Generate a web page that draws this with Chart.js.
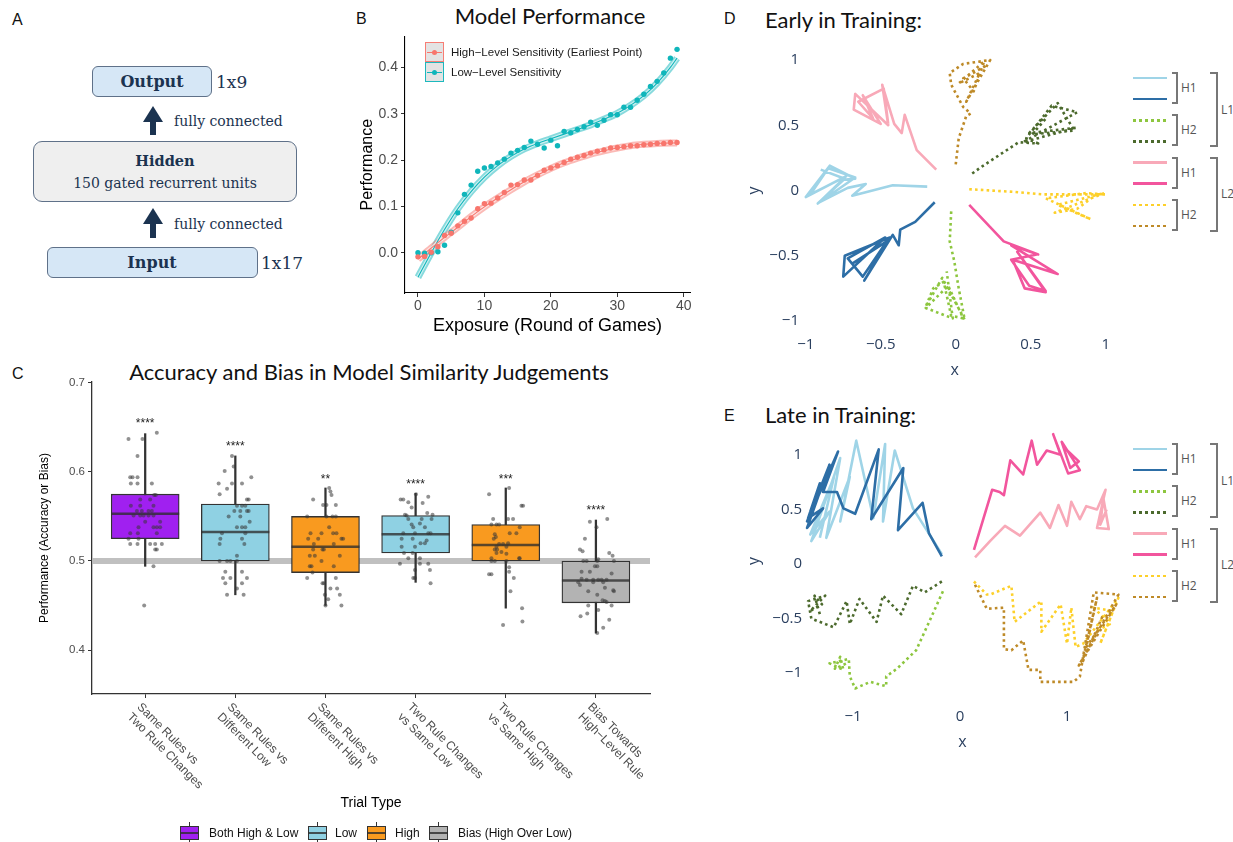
<!DOCTYPE html>
<html lang="en"><head><meta charset="utf-8"><title>Model figure</title>
<script src="https://cdn.jsdelivr.net/npm/chart.js@4.4.1/dist/chart.umd.min.js"></script>
<style>
html,body{margin:0;padding:0;background:#fff;}
#page{position:relative;width:1233px;height:842px;overflow:hidden;background:#fff;font-family:"Liberation Sans",Arial,sans-serif;color:#000}
.a{position:absolute;white-space:nowrap;line-height:1}
.cy{transform:translateY(-50%)}
.cc{transform:translate(-50%,-50%)}
.lbl{font-size:16px;color:#111}
.ttl{font-family:Lato,"Open Sans",sans-serif;color:#111}
.serif{font-family:"DejaVu Serif","Liberation Serif",serif;color:#1b3350}
.bx{position:absolute;box-sizing:border-box;border:1px solid #5f7189;}
canvas{position:absolute;display:block}
</style></head>
<body><div id="page">
<!-- Panel A : network diagram -->
<div class="a lbl cy" style="left:12px;top:20px">A</div>
<div class="bx" style="left:92px;top:66px;width:120px;height:31px;background:#d6e7f6;border-radius:6px"></div>
<div class="a serif cc" style="left:152px;top:82px;font-size:16px;font-weight:bold">Output</div>
<div class="a serif cy" style="left:216px;top:82px;font-size:17px">1x9</div>
<div class="a" style="left:143px;top:106px;width:0;height:0;border-left:10px solid transparent;border-right:10px solid transparent;border-bottom:16px solid #1b3350"></div>
<div class="a" style="left:150px;top:121px;width:6px;height:14px;background:#1b3350"></div>
<div class="a serif cy" style="left:174px;top:121px;font-size:14px">fully connected</div>
<div class="bx" style="left:33px;top:141px;width:264px;height:61px;background:#efefef;border-radius:9px"></div>
<div class="a serif cc" style="left:165px;top:161px;font-size:14.5px;font-weight:bold">Hidden</div>
<div class="a serif cc" style="left:165px;top:183px;font-size:14px">150 gated recurrent units</div>
<div class="a" style="left:143px;top:208px;width:0;height:0;border-left:10px solid transparent;border-right:10px solid transparent;border-bottom:16px solid #1b3350"></div>
<div class="a" style="left:150px;top:223px;width:6px;height:15px;background:#1b3350"></div>
<div class="a serif cy" style="left:174px;top:224px;font-size:14px">fully connected</div>
<div class="bx" style="left:47px;top:247px;width:211px;height:31px;background:#d6e7f6;border-radius:6px"></div>
<div class="a serif cc" style="left:152px;top:263px;font-size:16px;font-weight:bold">Input</div>
<div class="a serif cy" style="left:261px;top:263px;font-size:17px">1x17</div>

<!-- Panel B -->
<div class="a lbl cy" style="left:356px;top:19px">B</div>
<div class="a ttl cc" style="left:550px;top:16px;font-size:22px">Model Performance</div>
<canvas id="chartB" width="345" height="320" style="left:350px;top:25px;width:345px;height:320px"></canvas>
<div id="legB"></div>

<!-- Panel C -->
<div class="a lbl cy" style="left:12px;top:374px">C</div>
<div class="a ttl cc" style="left:369px;top:372px;font-size:22px">Accuracy and Bias in Model Similarity Judgements</div>
<canvas id="chartC" width="665" height="480" style="left:0px;top:360px;width:665px;height:480px"></canvas>
<div id="legC"></div>

<!-- Panel D -->
<div class="a lbl cy" style="left:724px;top:19px">D</div>
<div class="a ttl cy" style="left:765px;top:20px;font-size:22px">Early in Training:</div>
<canvas id="chartD" width="385" height="335" style="left:740px;top:48px;width:385px;height:335px"></canvas>
<div id="legD"></div>

<!-- Panel E -->
<div class="a lbl cy" style="left:724px;top:416px">E</div>
<div class="a ttl cy" style="left:765px;top:415px;font-size:22px">Late in Training:</div>
<canvas id="chartE" width="385" height="330" style="left:740px;top:422px;width:385px;height:330px"></canvas>
<div id="legE"></div>
</div>

<script>
// ================= Panel B data =================
const rounds = [0,1,2,3,4,5,6,7,8,9,10,11,12,13,14,15,16,17,18,19,20,21,22,23,24,25,26,27,28,29,30,31,32,33,34,35,36,37,38,39];
const highSens = [-0.009,-0.008,0.001,0.013,0.037,0.042,0.058,0.068,0.075,0.095,0.106,0.107,0.118,0.130,0.146,0.147,0.157,0.157,0.167,0.178,0.183,0.188,0.195,0.202,0.206,0.210,0.215,0.219,0.222,0.226,0.227,0.229,0.231,0.231,0.233,0.234,0.236,0.236,0.238,0.238];
const lowSens = [0.000,-0.001,0.000,0.002,0.016,0.044,0.086,0.126,0.146,0.176,0.183,0.186,0.194,0.202,0.215,0.221,0.227,0.241,0.234,0.226,0.243,0.231,0.262,0.259,0.266,0.272,0.282,0.275,0.286,0.298,0.298,0.314,0.314,0.329,0.342,0.359,0.370,0.388,0.420,0.439];
const fitRounds = [0,2,4,6,8,10,12,14,16,18,20,22,24,26,28,30,32,34,36,38,39];
const highFit = [-0.014,0.010,0.033,0.055,0.078,0.099,0.118,0.136,0.153,0.168,0.182,0.194,0.204,0.213,0.220,0.226,0.231,0.234,0.236,0.237,0.237];
const lowFit = [-0.053,0.000,0.050,0.095,0.132,0.163,0.188,0.208,0.224,0.236,0.246,0.256,0.266,0.276,0.288,0.301,0.318,0.339,0.366,0.400,0.420];
const bXTicks = [0,10,20,30,40];
const bYTicks = [0,0.1,0.2,0.3,0.4];
const bSeriesNames = ['High\u2212Level Sensitivity (Earliest Point)','Low\u2212Level Sensitivity'];

// ================= Panel C data =================
const trialTypes = [['Same Rules vs','Two Rule Changes'],['Same Rules vs','Different Low'],['Same Rules vs','Different High'],['Two Rule Changes','vs Same Low'],['Two Rule Changes','vs Same High'],['Bias Towards','High\u2212Level Rule']];
const boxGroupNames = ['Both High & Low','Low','High','Bias (High Over Low)'];
const boxGroupOf = [0,1,2,1,2,3];
const q1 = [0.525,0.500,0.487,0.509,0.500,0.453];
const med = [0.553,0.5325,0.516,0.530,0.518,0.478];
const q3 = [0.575,0.564,0.550,0.551,0.541,0.500];
const whiskLo = [0.494,0.462,0.450,0.476,0.447,0.419];
const whiskHi = [0.643,0.618,0.582,0.576,0.582,0.546];
const sigLabels = ['****','****','**','****','***','****'];
const sigY = [0.658,0.633,0.595,0.590,0.595,0.561];
const chanceLevel = 0.5;
const cYTicks = [0.4,0.5,0.6,0.7];
const jitSameVsTwo = [[-0.185,0.637],[-0.03,0.637],[0.129,0.644],[-0.085,0.618],[-0.166,0.594],[-0.140,0.594],[-0.085,0.594],[-0.159,0.587],[-0.085,0.587],[0.074,0.587],[-0.055,0.569],[0.055,0.569],[0.10,0.574],[0.118,0.574],[-0.159,0.562],[-0.055,0.562],[0.092,0.562],[-0.092,0.556],[-0.037,0.556],[0.037,0.556],[0.074,0.556],[-0.129,0.551],[-0.055,0.551],[-0.018,0.551],[0.037,0.551],[0.092,0.551],[0,0.544],[0.166,0.544],[-0.074,0.538],[0.092,0.538],[0.129,0.538],[0.166,0.538],[-0.166,0.531],[-0.081,0.531],[0.129,0.531],[-0.185,0.525],[-0.074,0.525],[-0.166,0.519],[-0.085,0.519],[0.055,0.519],[0.111,0.519],[0.185,0.519],[0.111,0.513],[0.129,0.513],[0.092,0.494],[-0.011,0.450]];
const jitSameVsDiffLow = [[-0.018,0.606],[-0.037,0.618],[-0.118,0.601],[0.177,0.594],[-0.185,0.587],[-0.037,0.587],[0.074,0.587],[-0.174,0.575],[-0.092,0.581],[0.129,0.569],[0.148,0.569],[0.018,0.562],[0.074,0.562],[0.111,0.562],[-0.011,0.556],[0.055,0.556],[0.129,0.556],[0.148,0.556],[-0.074,0.550],[0.055,0.550],[0.159,0.544],[0.018,0.538],[0.074,0.538],[0.111,0.538],[-0.148,0.531],[0.111,0.531],[-0.166,0.525],[0.074,0.525],[-0.174,0.519],[0.10,0.519],[0.018,0.506],[-0.174,0.500],[-0.092,0.500],[-0.055,0.500],[0.018,0.500],[-0.111,0.488],[0.074,0.488],[-0.137,0.481],[-0.055,0.481],[0.129,0.481],[-0.111,0.475],[0.074,0.475],[0.018,0.469],[-0.092,0.462],[0.092,0.462]];
const jitSameVsDiffHigh = [[0.041,0.582],[0.055,0.578],[0.067,0.574],[-0.137,0.569],[-0.026,0.563],[0.011,0.563],[0.115,0.563],[-0.203,0.550],[0.011,0.550],[0.078,0.550],[0.115,0.550],[0.041,0.538],[-0.166,0.531],[-0.044,0.531],[0.085,0.531],[0.122,0.531],[-0.192,0.525],[-0.081,0.525],[0.177,0.525],[0.196,0.525],[-0.129,0.519],[0.092,0.519],[-0.137,0.513],[-0.018,0.513],[-0.033,0.513],[-0.174,0.506],[-0.118,0.506],[0.159,0.506],[-0.044,0.500],[-0.174,0.494],[-0.155,0.494],[0.092,0.494],[-0.144,0.487],[-0.203,0.481],[0.115,0.481],[-0.033,0.475],[-0.018,0.475],[0.055,0.469],[0.129,0.469],[0.03,0.457],[-0.007,0.462],[0.159,0.462],[0,0.450],[0.177,0.450]];
const jitTwoVsSameLow = [[-0.166,0.569],[-0.137,0.569],[-0.081,0.566],[0.14,0.572],[0.004,0.575],[0.078,0.565],[-0.044,0.560],[-0.118,0.552],[-0.10,0.551],[0.129,0.554],[0.188,0.552],[-0.081,0.547],[0.067,0.547],[0.177,0.547],[-0.026,0.538],[0.103,0.538],[0.048,0.542],[-0.044,0.541],[-0.137,0.531],[-0.007,0.531],[0.14,0.531],[0.166,0.531],[-0.155,0.525],[-0.033,0.525],[0.055,0.520],[0.103,0.520],[0.122,0.523],[-0.155,0.516],[-0.007,0.516],[-0.129,0.509],[-0.033,0.509],[-0.081,0.503],[0.048,0.503],[-0.174,0.497],[0.048,0.497],[0.14,0.497],[-0.007,0.490],[0.159,0.490],[-0.026,0.481],[-0.007,0.481],[0.166,0.475]];
const jitTwoVsSameHigh = [[0.037,0.582],[-0.185,0.575],[0.174,0.562],[0.192,0.562],[-0.14,0.547],[0.026,0.547],[0.081,0.547],[-0.159,0.541],[-0.103,0.541],[-0.074,0.541],[0.155,0.538],[0.118,0.531],[0.044,0.531],[-0.122,0.530],[-0.11,0.527],[-0.133,0.525],[0.026,0.520],[-0.074,0.519],[-0.03,0.519],[-0.103,0.516],[-0.122,0.513],[-0.096,0.513],[0.007,0.516],[-0.048,0.510],[0.007,0.508],[-0.159,0.503],[-0.103,0.509],[0.148,0.503],[0.155,0.503],[-0.159,0.500],[-0.122,0.500],[0.007,0.500],[0.037,0.493],[-0.185,0.485],[-0.159,0.485],[0.037,0.488],[0.089,0.481],[0.052,0.466],[0.181,0.447],[-0.03,0.428],[0.185,0.432]];
const jitBias = [[-0.067,0.544],[0.126,0.547],[0.007,0.538],[-0.122,0.525],[-0.177,0.513],[-0.148,0.511],[0.148,0.509],[0.185,0.506],[-0.14,0.500],[-0.103,0.500],[0.015,0.500],[0.20,0.500],[0.026,0.502],[-0.011,0.494],[0.015,0.494],[-0.159,0.488],[-0.067,0.488],[0.174,0.486],[-0.159,0.480],[-0.103,0.479],[-0.03,0.479],[0.026,0.479],[0.063,0.479],[0.118,0.479],[-0.196,0.476],[-0.177,0.473],[0.081,0.476],[-0.03,0.476],[-0.085,0.466],[0.10,0.470],[0.192,0.467],[0.20,0.466],[0.015,0.462],[0.074,0.456],[0.10,0.455],[0.118,0.454],[-0.085,0.450],[0.174,0.450],[0.026,0.445],[-0.17,0.438],[-0.096,0.441],[0.148,0.434],[0.081,0.425],[0.015,0.419]];
const jitterSets = [jitSameVsTwo, jitSameVsDiffLow, jitSameVsDiffHigh, jitTwoVsSameLow, jitTwoVsSameHigh, jitBias];

// ================= Panel D (early) trajectories =================
const earlyL1H1a = [[-0.19,0.03],[-0.42,0.04],[-0.69,-0.04],[-0.60,0.05],[-0.72,0.02],[-0.91,-0.09],[-0.73,0.11],[-1.00,-0.05],[-0.84,0.19],[-0.67,0.09],[-0.78,0.08],[-0.97,-0.03],[-0.85,0.17],[-0.67,0.10],[-0.92,-0.10],[-0.74,0.09],[-0.90,0.16]];
const earlyL1H1b = [[-0.14,-0.09],[-0.27,-0.24],[-0.37,-0.30],[-0.38,-0.42],[-0.42,-0.34],[-0.61,-0.69],[-0.44,-0.36],[-0.74,-0.50],[-0.75,-0.66],[-0.47,-0.36],[-0.72,-0.52],[-0.62,-0.66],[-0.46,-0.39],[-0.69,-0.56]];
const earlyL1H2a = [[-0.03,-0.16],[-0.04,-0.39],[-0.01,-0.54],[0.02,-0.75],[0.06,-0.99],[-0.09,-0.67],[-0.20,-0.89],[-0.15,-0.75],[-0.08,-0.70],[-0.03,-0.96],[0.05,-0.98],[-0.05,-0.73],[-0.20,-0.90],[-0.02,-0.98],[-0.06,-0.62]];
const earlyL1H2b = [[0.11,0.13],[0.17,0.18],[0.42,0.37],[0.55,0.36],[0.47,0.40],[0.64,0.65],[0.81,0.60],[0.45,0.37],[0.80,0.48],[0.49,0.44],[0.68,0.67],[0.79,0.46],[0.51,0.43],[0.60,0.55]];
const earlyL2H1a = [[-0.13,0.16],[-0.26,0.31],[-0.34,0.58],[-0.36,0.44],[-0.41,0.51],[-0.49,0.81],[-0.45,0.50],[-0.67,0.74],[-0.68,0.62],[-0.50,0.51],[-0.62,0.73],[-0.55,0.55],[-0.65,0.68],[-0.48,0.78],[-0.45,0.51]];
const earlyL2H1b = [[0.09,-0.11],[0.23,-0.28],[0.32,-0.39],[0.55,-0.49],[0.37,-0.42],[0.68,-0.64],[0.38,-0.53],[0.46,-0.75],[0.60,-0.78],[0.41,-0.47],[0.60,-0.77],[0.49,-0.73],[0.37,-0.53],[0.54,-0.49]];
const earlyL2H2a = [[0.09,0.01],[0.38,-0.01],[0.58,-0.03],[1.00,-0.03],[0.87,-0.02],[0.60,-0.06],[0.90,-0.22],[0.68,-0.11],[0.99,-0.02],[0.66,-0.17],[0.81,-0.14],[0.94,-0.03]];
const earlyL2H2b = [[0.00,0.20],[0.02,0.40],[0.07,0.57],[0.10,0.59],[0.05,0.64],[-0.03,0.81],[-0.04,0.90],[0.05,0.97],[0.23,1.00],[0.07,0.68],[0.16,0.90],[0.02,0.82],[0.19,0.99],[0.12,0.76],[0.05,0.86],[0.21,0.96]];

// ================= Panel E (late) trajectories =================
const lateL1H1a = [[-0.17,0.09],[-0.44,0.51],[-0.61,1.04],[-0.72,0.39],[-0.70,1.10],[-0.81,0.42],[-0.97,1.13],[-1.12,0.39],[-1.03,0.80],[-1.25,0.24],[-1.12,0.97],[-1.39,0.21],[-1.22,0.48],[-1.40,0.27],[-1.18,0.79],[-1.31,0.24]];
const lateL1H1b = [[-0.17,0.07],[-0.29,0.28],[-0.35,0.56],[-0.58,0.31],[-0.53,0.88],[-0.83,0.41],[-0.76,1.05],[-0.98,0.46],[-1.09,0.51],[-1.15,0.66],[-1.28,0.66],[-1.14,1.03],[-1.43,0.39],[-1.22,0.91],[-1.43,0.33],[-1.28,0.51],[-1.42,0.42],[-1.31,0.74],[-1.40,0.48]];
const lateL1H2a = [[-0.16,-0.25],[-0.27,-0.49],[-0.41,-0.79],[-0.59,-0.96],[-0.69,-1.03],[-0.69,-1.12],[-0.84,-1.08],[-0.98,-1.14],[-1.03,-1.03],[-1.04,-0.87],[-1.22,-0.91],[-1.09,-0.97],[-1.12,-0.85],[-1.17,-0.96],[-1.06,-0.91]];
const lateL1H2b = [[-0.17,-0.16],[-0.33,-0.26],[-0.44,-0.20],[-0.55,-0.46],[-0.72,-0.29],[-0.78,-0.53],[-0.94,-0.32],[-1.03,-0.55],[-1.06,-0.34],[-1.18,-0.58],[-1.39,-0.50],[-1.42,-0.34],[-1.26,-0.29],[-1.40,-0.43],[-1.29,-0.37],[-1.36,-0.29],[-1.31,-0.46]];
const lateL2H1a = [[0.14,0.06],[0.28,0.21],[0.42,0.35],[0.56,0.26],[0.75,0.47],[0.84,0.33],[0.92,0.54],[1.00,0.35],[1.04,0.57],[1.12,0.41],[1.18,0.53],[1.28,0.50],[1.36,0.68],[1.28,0.33],[1.39,0.32],[1.34,0.60],[1.31,0.36],[1.37,0.50]];
const lateL2H1b = [[0.13,0.13],[0.30,0.68],[0.37,0.66],[0.41,0.63],[0.47,0.95],[0.59,0.82],[0.67,1.13],[0.72,0.91],[0.81,1.04],[0.94,1.00],[0.87,1.19],[1.01,0.83],[1.12,0.86],[0.95,1.12],[1.03,0.88],[1.11,0.94],[0.98,1.06]];
const lateL2H2a = [[0.13,-0.16],[0.25,-0.28],[0.28,-0.28],[0.48,-0.20],[0.51,-0.53],[0.76,-0.34],[0.76,-0.62],[0.94,-0.37],[1.00,-0.73],[1.04,-0.40],[1.08,-0.76],[1.15,-0.73],[1.48,-0.31],[1.31,-0.73],[1.43,-0.43],[1.25,-0.40],[1.40,-0.55],[1.28,-0.61]];
const lateL2H2b = [[0.14,-0.19],[0.25,-0.41],[0.41,-0.40],[0.41,-0.78],[0.48,-0.79],[0.59,-0.70],[0.64,-0.97],[0.75,-0.97],[0.75,-1.08],[1.06,-1.08],[1.12,-1.03],[1.25,-0.26],[1.48,-0.28],[1.11,-0.93],[1.46,-0.37],[1.18,-0.76],[1.28,-0.31],[1.14,-0.91],[1.34,-0.46]];
const dXTicks = [-1,-0.5,0,0.5,1];
const dYTicks = [-1,-0.5,0,0.5,1];
const eXTicks = [-1,0,1];
const eYTicks = [-1,-0.5,0,0.5,1];
const hiddenLabels = ['H1','H2','H1','H2'];
const layerLabels = ['L1','L2'];

// ================= styles =================
Chart.defaults.font.family = '"Liberation Sans", Arial, sans-serif';
const RED = '#F8766D', TEAL = '#10B6BB';
const boxColors = ['#a020f0','#8fd1e3','#f99a1f','#b3b3b3'];
const trajColors = ['#9fd4e7','#2d6ea6','#8dc63f','#4c6a2d','#f8a9b8','#f2559d','#fdd02a','#be8a28'];
const trajDotted = [false,false,true,true,false,false,true,true];
const page = document.getElementById('page');
function addHTML(html){ page.insertAdjacentHTML('beforeend', html); }
const toXY = arr => arr.map(p => ({x:p[0], y:p[1]}));

// ================= Chart B =================
function fitSets(fit, col, rgb){
  const d = fitRounds.map((r,i)=>({x:r, y:fit[i]}));
  const base = {type:'line', data:d, pointRadius:0, fill:false, cubicInterpolationMode:'monotone'};
  return [
    Object.assign({}, base, {borderColor:col, borderWidth:1.1, order:1}),
    Object.assign({}, base, {borderColor:'rgba(255,255,255,0.6)', borderWidth:3.4, order:2}),
    Object.assign({}, base, {borderColor:'rgba('+rgb+',0.5)', borderWidth:7, order:3})
  ];
}
new Chart(document.getElementById('chartB'), {
  type:'scatter',
  data:{datasets:[
    {data: rounds.map((r,i)=>({x:r,y:highSens[i]})), pointBackgroundColor:RED, pointBorderWidth:0, pointRadius:2.7, order:0},
    {data: rounds.map((r,i)=>({x:r,y:lowSens[i]})), pointBackgroundColor:TEAL, pointBorderWidth:0, pointRadius:2.7, order:0},
    ...fitSets(highFit, RED, '248,118,109'),
    ...fitSets(lowFit, TEAL, '16,182,187')
  ]},
  options:{
    responsive:false, animation:false, events:[],
    layout:{autoPadding:false, padding:{top:7,right:5,left:0,bottom:0}},
    plugins:{legend:{display:false}, tooltip:{enabled:false}},
    scales:{
      x:{type:'linear', min:-1.95, max:40.95,
        afterBuildTicks:s=>{s.ticks = bXTicks.map(v=>({value:v}));},
        afterFit:s=>{s.height = 52;},
        grid:{display:true, drawOnChartArea:false, drawTicks:true, tickLength:4, color:'#333'},
        border:{display:true, color:'#000', width:1.1},
        ticks:{padding:1, color:'#4d4d4d', font:{size:14}, maxRotation:0, autoSkip:false, callback:v=>String(v)},
        title:{display:true, text:'Exposure (Round of Games)', color:'#000', font:{size:18}, padding:{top:0,bottom:8}}},
      y:{type:'linear', min:-0.087, max:0.467,
        afterBuildTicks:s=>{s.ticks = bYTicks.map(v=>({value:v}));},
        afterFit:s=>{s.width = 55;},
        grid:{display:true, drawOnChartArea:false, drawTicks:true, tickLength:4, color:'#333'},
        border:{display:true, color:'#000', width:1.1},
        ticks:{padding:3, color:'#4d4d4d', font:{size:14}, autoSkip:false, callback:v=>v.toFixed(1)},
        title:{display:true, text:'Performance', color:'#000', font:{size:16}, padding:{top:8,bottom:0}}}
    }
  }
});
// legend B
[RED, TEAL].forEach((c,i)=>{
  const top = 42 + i*20;
  addHTML('<div class="a" style="left:425px;top:'+top+'px;width:19px;height:20px;box-sizing:border-box;background:#e2e2e2;border:1.5px solid '+c+';opacity:0.95"></div>'+
    '<div class="a" style="left:427px;top:'+(top+9.5)+'px;width:15px;height:1px;background:'+c+'"></div>'+
    '<div class="a" style="left:432px;top:'+(top+7.5)+'px;width:5px;height:5px;border-radius:50%;background:'+c+'"></div>'+
    '<div class="a cy" style="left:451px;top:'+(top+10.5)+'px;font-size:11.5px;color:#1a1a1a">'+bSeriesNames[i]+'</div>');
});

// ================= Chart C =================
const cPlugin = {
  id:'cAnnot',
  afterDraw(chart){
    const {ctx, scales:{x, y}} = chart;
    ctx.save();
    ctx.fillStyle = '#222'; ctx.font = '12px "Liberation Sans"'; ctx.textAlign = 'center'; ctx.textBaseline = 'alphabetic';
    sigLabels.forEach((s,i)=>ctx.fillText(s, x.getPixelForValue(i+1), y.getPixelForValue(sigY[i]) + 7));
    ctx.fillStyle = '#4d4d4d'; ctx.font = '12px "Liberation Sans"'; ctx.textAlign = 'left'; ctx.textBaseline = 'top';
    trialTypes.forEach((lines,i)=>{
      ctx.save();
      ctx.translate(x.getPixelForValue(i+1) - 2, y.bottom + 7);
      ctx.rotate(Math.PI/4);
      lines.forEach((t,j)=>ctx.fillText(t, 0, j*14));
      ctx.restore();
    });
    ctx.restore();
  }
};
const jitterData = [];
jitterSets.forEach((set,i)=>set.forEach(p=>jitterData.push({x:i+1+p[0], y:p[1]})));
new Chart(document.getElementById('chartC'), {
  type:'scatter',
  data:{datasets:[
    {type:'scatter', data:jitterData, pointRadius:2, pointBackgroundColor:'rgba(55,55,55,0.55)', pointBorderWidth:0, order:0},
    {type:'scatter', data:med.map((m,i)=>({x:i+1,y:m})), pointStyle:'line', pointRadius:34, pointBorderWidth:2.6, pointBorderColor:'rgba(45,45,45,0.78)', order:1},
    {type:'bar', data:q1.map((v,i)=>({x:i+1,y:[v,q3[i]]})), backgroundColor:boxGroupOf.map(g=>boxColors[g]), borderColor:'#333', borderWidth:1.3, borderSkipped:false, barThickness:68, grouped:false, order:2},
    {type:'bar', data:whiskLo.map((v,i)=>({x:i+1,y:[v,whiskHi[i]]})), backgroundColor:'#333', borderWidth:0, barThickness:1.6, grouped:false, order:3},
    {type:'line', data:[{x:0.41,y:chanceLevel},{x:6.6,y:chanceLevel}], borderColor:'rgba(185,185,185,0.9)', borderWidth:6, pointRadius:0, order:4}
  ]},
  options:{
    responsive:false, animation:false, events:[],
    layout:{autoPadding:false, padding:{top:22,right:15,left:0,bottom:0}},
    plugins:{legend:{display:false}, tooltip:{enabled:false}},
    scales:{
      x:{type:'linear', min:0.41, max:6.6, offset:false,
        afterBuildTicks:s=>{s.ticks = trialTypes.map((t,i)=>({value:i+1}));},
        afterFit:s=>{s.height = 146;},
        grid:{display:true, offset:false, drawOnChartArea:false, drawTicks:true, tickLength:4, color:'#333'},
        border:{display:true, color:'#333', width:1.3},
        ticks:{display:false},
        title:{display:true, text:'Trial Type', color:'#000', font:{size:14}, padding:{top:0,bottom:28}}},
      y:{type:'linear', min:0.3506, max:0.701,
        afterBuildTicks:s=>{s.ticks = cYTicks.map(v=>({value:v}));},
        afterFit:s=>{s.width = 92;},
        grid:{display:true, drawOnChartArea:false, drawTicks:true, tickLength:4, color:'#333'},
        border:{display:true, color:'#333', width:1.3},
        ticks:{padding:3, color:'#4d4d4d', font:{size:11.5}, autoSkip:false, callback:v=>v.toFixed(1)},
        title:{display:true, text:'Performance (Accuracy or Bias)', color:'#000', font:{size:12}, padding:{top:37,bottom:0}}}
    }
  },
  plugins:[cPlugin]
});
// legend C
(function(){
  const keyLeft = [180, 308, 367, 429];
  const txtLeft = [209, 335, 395, 458];
  boxGroupNames.forEach((n,i)=>{
    const L = keyLeft[i];
    addHTML('<div class="a" style="left:'+(L+9)+'px;top:822px;width:1px;height:20px;background:#333"></div>'+
      '<div class="a" style="left:'+L+'px;top:826px;width:19px;height:14px;box-sizing:border-box;background:'+boxColors[i]+';border:1px solid #333"></div>'+
      '<div class="a" style="left:'+L+'px;top:832px;width:19px;height:2px;background:rgba(45,45,45,0.8)"></div>'+
      '<div class="a cy" style="left:'+txtLeft[i]+'px;top:833px;font-size:12px;color:#111">'+n+'</div>');
  });
})();

// ================= Charts D & E =================
const minusFmt = v => (v < 0 ? '\u2212' : '') + Math.abs(v);
function trajChart(id, trajs, xr, yr, xt, yt, yW, xH, xPad, xTitlePad){
  new Chart(document.getElementById(id), {
    type:'scatter',
    data:{datasets: trajs.map((t,i)=>({
      data: toXY(t), showLine:true, pointRadius:0, borderColor:trajColors[i], borderWidth:2.6,
      borderDash: trajDotted[i] ? [2.6,3.2] : [], borderJoinStyle:'round', tension:0, clip:false, order: trajs.length - i
    }))},
    options:{
      responsive:false, animation:false, events:[],
      layout:{autoPadding:false, padding:{top:10,right:5,left:0,bottom:0}},
      plugins:{legend:{display:false}, tooltip:{enabled:false}},
      scales:{
        x:{type:'linear', min:xr[0], max:xr[1],
          afterBuildTicks:s=>{s.ticks = xt.map(v=>({value:v}));},
          afterFit:s=>{s.height = xH;},
          grid:{display:false, drawTicks:false}, border:{display:false},
          ticks:{padding:xPad, color:'#2a3f5f', font:{size:15, family:'"Open Sans"'}, maxRotation:0, autoSkip:false, callback:minusFmt},
          title:{display:true, text:'x', color:'#2a3f5f', font:{size:16, family:'"Open Sans"'}, padding:{top:0,bottom:xTitlePad}}},
        y:{type:'linear', min:yr[0], max:yr[1],
          afterBuildTicks:s=>{s.ticks = yt.map(v=>({value:v}));},
          afterFit:s=>{s.width = yW;},
          grid:{display:false, drawTicks:false}, border:{display:false},
          ticks:{padding:3, color:'#2a3f5f', font:{size:15, family:'"Open Sans"'}, autoSkip:false, callback:minusFmt},
          title:{display:true, text:'y', color:'#2a3f5f', font:{size:16, family:'"Open Sans"'}, padding:{top:5,bottom:0}}}
      }
    }
  });
}
trajChart('chartD', [earlyL1H1a,earlyL1H1b,earlyL1H2a,earlyL1H2b,earlyL2H1a,earlyL2H1b,earlyL2H2a,earlyL2H2b],
  [-1.025,1.01], [-1.0,1.0], dXTicks, dYTicks, 62, 62, 15, 3);
trajChart('chartE', [lateL1H1a,lateL1H1b,lateL1H2a,lateL1H2b,lateL2H1a,lateL2H1b,lateL2H2a,lateL2H2b],
  [-1.449,1.495], [-1.136,1.191], eXTicks, eYTicks, 65, 64, 20, 0);

function buildLegend(top0){
  const step = 21.14;
  const rowY = i => top0 + i*step;
  let h = '';
  trajColors.forEach((c,i)=>{
    const y = rowY(i) - 1.3;
    const bg = trajDotted[i] ? 'repeating-linear-gradient(90deg,'+c+' 0 3px,transparent 3px 6px)' : c;
    h += '<div class="a" style="left:1133px;top:'+y+'px;width:34px;height:2.6px;background:'+bg+'"></div>';
  });
  hiddenLabels.forEach((lab,g)=>{
    const y1 = rowY(2*g) - 6, y2 = rowY(2*g+1) + 5;
    h += '<div class="a" style="left:1172px;top:'+y1+'px;width:6px;height:'+(y2-y1)+'px;box-sizing:border-box;border:2px solid #777;border-left:none"></div>';
    h += '<div class="a cy" style="left:1181px;top:'+((y1+y2)/2)+'px;font-size:12px;color:#555;font-family:\'Open Sans\'">'+lab+'</div>';
  });
  layerLabels.forEach((lab,k)=>{
    const y1 = rowY(4*k) - 6, y2 = rowY(4*k+3) + 6;
    h += '<div class="a" style="left:1210px;top:'+y1+'px;width:8px;height:'+(y2-y1)+'px;box-sizing:border-box;border:2px solid #777;border-left:none"></div>';
    h += '<div class="a cy" style="left:1221px;top:'+((y1+y2)/2)+'px;font-size:12px;color:#555;font-family:\'Open Sans\'">'+lab+'</div>';
  });
  addHTML(h);
}
buildLegend(78);
buildLegend(449);
</script>
</body></html>
